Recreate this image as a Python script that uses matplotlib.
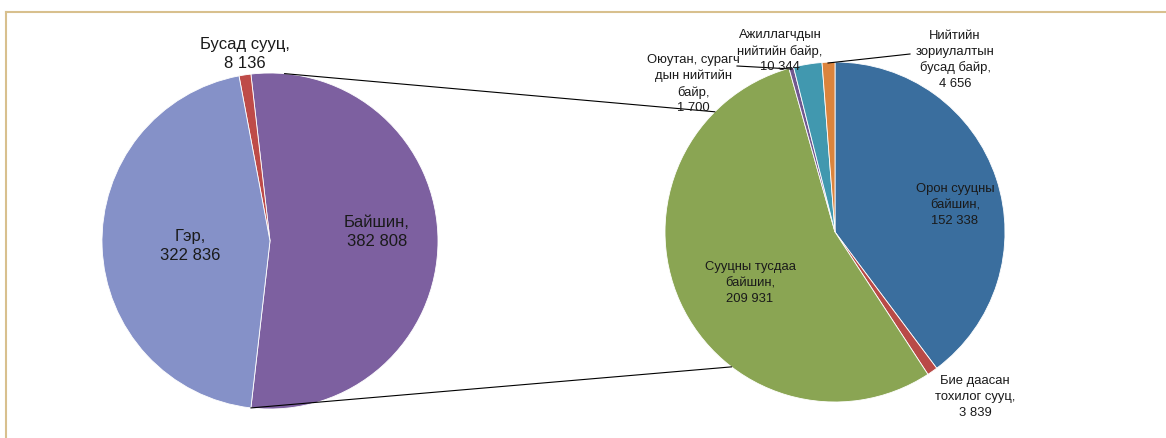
import matplotlib.pyplot as plt
from matplotlib.lines import Line2D
import numpy as np

plt.rcParams['font.family'] = ['Liberation Sans', 'DejaVu Sans']

# Main pie: dwellings by type
main_labels = ['Байшин', 'Бусад сууц', 'Гэр']
main_values = [382808, 8136, 322836]
main_colors = ['#7D60A0', '#BE4B48', '#8591C8']

# Breakdown of "Байшин"
sub_labels = ['Орон сууцны\nбайшин', 'Бие даасан\nтохилог сууц', 'Сууцны тусдаа\nбайшин',
              'Оюутан, сурагч\nдын нийтийн\nбайр', 'Ажиллагчдын\nнийтийн байр',
              'Нийтийн\nзориулалтын\nбусад байр']
sub_values = [152338, 3839, 209931, 1700, 10344, 4656]
sub_colors = ['#3A6E9E', '#B94A47', '#8AA553', '#71588F', '#4198AF', '#DB843D']

W, H = 1166, 439
fig = plt.figure(figsize=(W / 100, H / 100), dpi=100)
ax = fig.add_axes([0, 0, 1, 1])

def fmt(v):
    return f'{v:,}'.replace(',', ' ')

# left pie, expanded slice centred on the right side
c1, r1 = (270, 197), 168
share = main_values[0] / sum(main_values) * 360
ax.pie(main_values, colors=main_colors, center=c1, radius=r1,
       startangle=-share / 2, counterclock=True,
       wedgeprops=dict(edgecolor='white', linewidth=0.6))

# right pie
c2, r2 = (835, 206), 170
ax.pie(sub_values, colors=sub_colors, center=c2, radius=r2,
       startangle=90, counterclock=False,
       wedgeprops=dict(edgecolor='white', linewidth=0.6))

ax.set_xlim(0, W)
ax.set_ylim(0, H)
ax.set_aspect('equal')
ax.axis('off')

# connector lines between the two pies
def on_circle(c, r, deg):
    a = np.radians(deg)
    return c[0] + r * np.cos(a), c[1] + r * np.sin(a)

for a1, a2 in [(85, 135), (-96.5, -127.5)]:
    p1 = on_circle(c1, r1, a1)
    p2 = on_circle(c2, r2, a2)
    ax.plot([p1[0], p2[0]], [p1[1], p2[1]], color='black', lw=0.8)

# labels on the left pie
left_pos = [(377, 207), (245, 385), (190, 193)]
for lab, v, (x, y) in zip(main_labels, main_values, left_pos):
    ax.text(x, y, f'{lab},\n{fmt(v)}', ha='center', va='center',
            fontsize=12, color='#1a1a1a', linespacing=1.3)

# labels on the right pie
sub_pos = [(955, 234), (975, 42), (750, 156), (693, 355), (780, 388), (955, 379)]
for lab, v, (x, y) in zip(sub_labels, sub_values, sub_pos):
    ax.text(x, y, f'{lab},\n{fmt(v)}', ha='center', va='center',
            fontsize=9.4, color='#1a1a1a', linespacing=1.4)

# leader lines for the thin slices
ax.plot([737, 792], [H - 67, H - 70], color='black', lw=0.8)
ax.plot([910, 828], [H - 55, H - 64], color='black', lw=0.8)

# frame lines
fig.add_artist(Line2D([6, W], [H - 13, H - 13], transform=None, color='#D8C08E', lw=1.5))
fig.add_artist(Line2D([6, 6], [0, H - 13], transform=None, color='#D8C08E', lw=1.5))

fig.savefig('out.png', dpi=100)
